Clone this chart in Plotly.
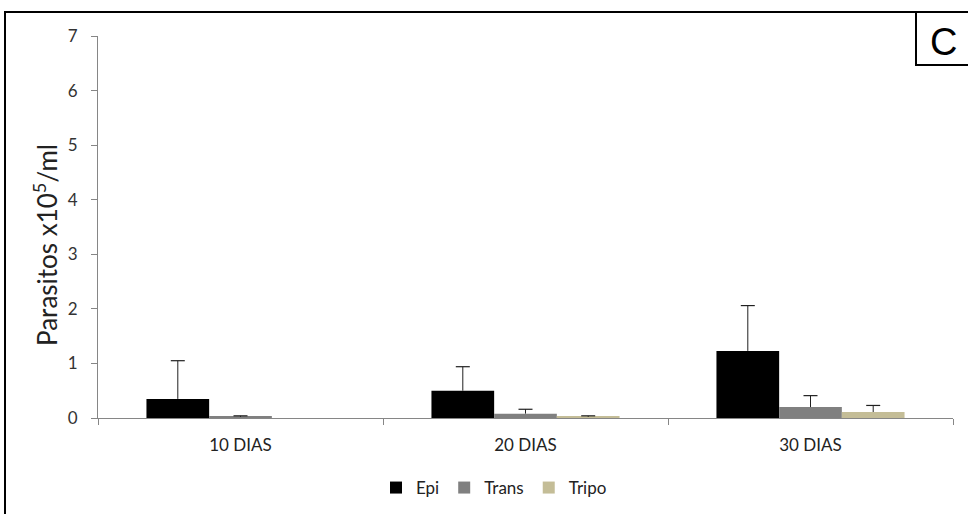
import plotly.graph_objects as go

# Data: parasite counts (x10^5/ml) by day and stage, with upper error bars
categories = ["10 DIAS", "20 DIAS", "30 DIAS"]
epi = [0.35, 0.50, 1.23]
epi_err = [0.70, 0.44, 0.83]
trans = [0.02, 0.08, 0.20]
trans_err = [0.02, 0.08, 0.21]
tripo = [None, 0.02, 0.11]
tripo_err = [None, 0.02, 0.12]

W, H = 968, 514
L, R, T, B = 98, 15, 36, 96
PW, PH = W - L - R, H - T - B


def px_x(px):
    return (px - L) / PW


def px_y(py):
    return (H - B - py) / PH


series = [
    ("Epi", epi, epi_err, "#000000"),
    ("Trans", trans, trans_err, "#808080"),
    ("Tripo", tripo, tripo_err, "#C4BD97"),
]

fig = go.Figure()
for name, vals, errs, color in series:
    fig.add_trace(go.Bar(
        name=name, x=categories, y=vals,
        marker=dict(color=color, line=dict(width=0)),
    ))

# Upper error whiskers: a capped line from the bar top up to value + error
whisker = "#202020"
for name, vals, errs, color in series:
    tops = [None if v is None else v + e for v, e in zip(vals, errs)]
    fig.add_trace(go.Scatter(
        x=categories, y=tops, mode="markers", showlegend=False,
        hoverinfo="skip",
        marker=dict(symbol="line-ew-open", size=10, color=whisker,
                    line=dict(color=whisker, width=1.2)),
        error_y=dict(type="data", array=[0] * len(errs), arrayminus=errs,
                     symmetric=False, color=whisker, thickness=1, width=0),
    ))

font_main = "Lato, 'Open Sans', sans-serif"

fig.update_layout(
    width=W, height=H,
    margin=dict(l=L, r=R, t=T, b=B, autoexpand=False),
    paper_bgcolor="white", plot_bgcolor="white",
    barmode="group", bargap=0.34, bargroupgap=0,
    scattermode="group", scattergap=0.34,
    font=dict(family=font_main, size=15, color="#333333"),
    showlegend=True,
    legend=dict(orientation="h", x=px_x(494), xanchor="center",
                y=px_y(488), yanchor="middle",
                font=dict(size=17, color="#222222"),
                itemwidth=30, traceorder="normal"),
    xaxis=dict(
        showline=True, linecolor="#868686", linewidth=1,
        ticks="outside", tickson="boundaries", ticklen=6,
        tickcolor="#868686", showgrid=False, automargin=False,
        ticklabelstandoff=12,
        tickfont=dict(size=17, color="#222222"),
    ),
    yaxis=dict(
        range=[0, 7], dtick=1, showline=True, linecolor="#868686",
        linewidth=1, ticks="outside", ticklen=6, tickcolor="#868686",
        showgrid=False, zeroline=False, automargin=False,
        ticklabelstandoff=10,
        tickfont=dict(size=17, color="#333333"),
    ),
    shapes=[
        dict(type="rect", xref="paper", yref="paper",
             x0=px_x(5), x1=px_x(985), y0=px_y(530), y1=px_y(12),
             line=dict(color="black", width=2), fillcolor="rgba(0,0,0,0)",
             layer="below"),
        dict(type="rect", xref="paper", yref="paper",
             x0=px_x(916), x1=px_x(985), y0=px_y(65), y1=px_y(12),
             line=dict(color="black", width=2), fillcolor="white"),
    ],
    annotations=[
        dict(text="Parasitos x10<sup>5</sup>/ml", textangle=-90,
             xref="paper", yref="paper", x=px_x(45), y=px_y(245),
             xanchor="center", yanchor="middle", showarrow=False,
             font=dict(size=26, color="#222222")),
        dict(text="C", xref="paper", yref="paper",
             x=px_x(943), y=px_y(42), xanchor="center", yanchor="middle",
             showarrow=False,
             font=dict(family="Liberation Sans, Arial, sans-serif",
                       size=38, color="black")),
    ],
)

fig.write_html("out.html")
